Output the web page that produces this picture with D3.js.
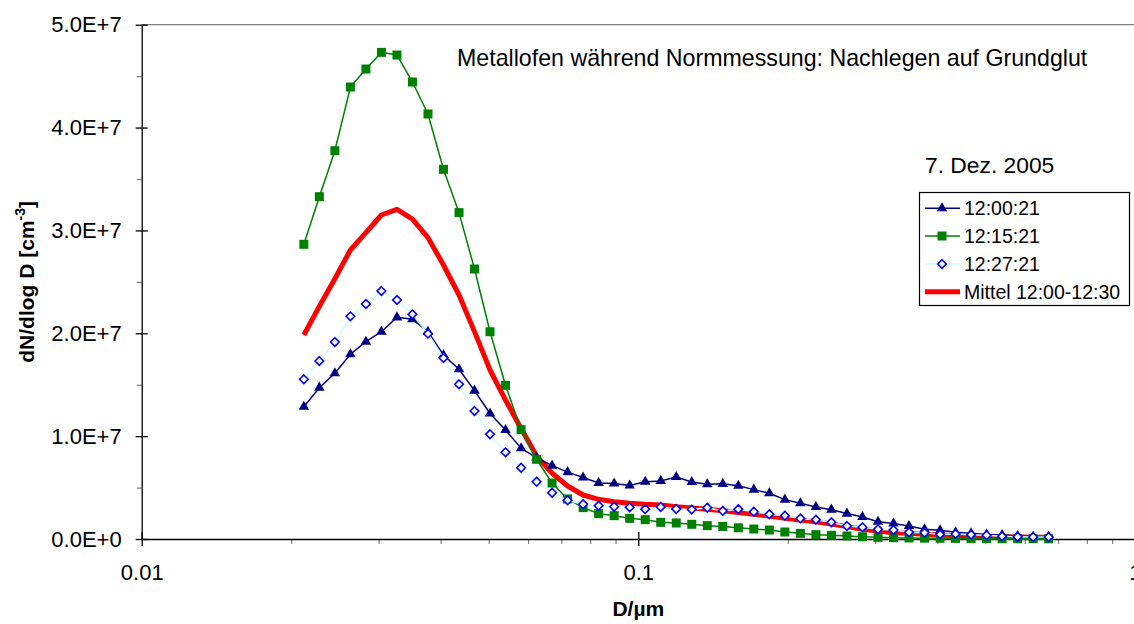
<!DOCTYPE html>
<html><head><meta charset="utf-8">
<script src="https://cdn.jsdelivr.net/npm/d3@7"></script>
<style>
body{margin:0;background:#fff}
svg{display:block}
text{font-family:"Liberation Sans",Arial,sans-serif;fill:#000}
</style>
</head><body><svg id="c" width="1134" height="624"></svg>
<script>
// ---------- data ----------
const diameters = [0.02121,0.02279,0.02449,0.02632,0.02828,0.03039,0.03266,0.03509,0.03771,0.04052,
  0.04355,0.04679,0.05028,0.05403,0.05807,0.06240,0.06705,0.07205,0.07743,0.08320,
  0.08941,0.09609,0.10325,0.11095,0.11923,0.12813,0.13769,0.14796,0.15900,0.17086,
  0.18361,0.19731,0.21203,0.22785,0.24484,0.26311,0.28274,0.30383,0.32650,0.35085,
  0.37703,0.40516,0.43538,0.46786,0.50277,0.54027,0.58058,0.62389,0.67043];
// values in units of 1E7 cm^-3
const s120021 = [1.286,1.471,1.611,1.796,1.918,2.015,2.155,2.136,2.015,1.789,
  1.650,1.442,1.220,1.060,0.882,0.790,0.713,0.650,0.598,0.545,
  0.540,0.520,0.557,0.565,0.603,0.554,0.533,0.536,0.517,0.480,
  0.444,0.383,0.347,0.311,0.285,0.247,0.214,0.168,0.150,0.126,
  0.094,0.084,0.066,0.055,0.044,0.039,0.029,0.022,0.022];
const s121521 = [2.865,3.328,3.775,4.394,4.569,4.731,4.705,4.443,4.132,3.594,
  3.173,2.625,2.015,1.494,1.063,0.775,0.544,0.389,0.305,0.246,
  0.227,0.201,0.188,0.162,0.156,0.143,0.130,0.122,0.109,0.097,
  0.087,0.068,0.055,0.042,0.036,0.029,0.022,0.016,0.013,0.010,
  0.008,0.007,0.006,0.004,0.004,0.003,0.003,0.003,0.002];
const s122721 = [1.553,1.730,1.915,2.165,2.285,2.411,2.324,2.184,1.996,1.760,
  1.504,1.244,1.018,0.843,0.693,0.557,0.450,0.376,0.338,0.324,
  0.314,0.308,0.290,0.311,0.292,0.286,0.304,0.273,0.290,0.265,
  0.241,0.227,0.200,0.188,0.162,0.126,0.114,0.094,0.087,0.065,
  0.061,0.045,0.049,0.042,0.036,0.026,0.022,0.019,0.019];
const sMittel = [1.983,2.262,2.531,2.810,2.978,3.150,3.205,3.110,2.930,2.664,
  2.372,2.016,1.643,1.351,1.075,0.807,0.639,0.515,0.428,0.386,
  0.363,0.347,0.337,0.331,0.314,0.301,0.289,0.275,0.258,0.240,
  0.224,0.201,0.185,0.168,0.146,0.120,0.094,0.078,0.061,0.055,
  0.045,0.039,0.032,0.029,0.022,0.022,0.019,0.016,0.016];
const UNIT = 1e7;
const seriesNames = ["12:00:21","12:15:21","12:27:21","Mittel 12:00-12:30"];
const yTickValues = [0,1e7,2e7,3e7,4e7,5e7];
const yMinorTicks = [0.5e7,1.5e7,2.5e7,3.5e7,4.5e7];
const xTickValues = [0.01,0.1,1];
const xTickLabels = ["0.01","0.1","1"];
const xMinorTicks = [0.02,0.03,0.04,0.05,0.06,0.07,0.08,0.09,0.2,0.3,0.4,0.5,0.6,0.7,0.8,0.9];
const titleText = "Metallofen während Normmessung: Nachlegen auf Grundglut";
const dateText = "7. Dez. 2005";

// ---------- layout ----------
const L = 141.7, R = 1134.9, T = 24.7, B = 539;
const svg = d3.select("#c");
const x = d3.scaleLog().domain([0.01,1]).range([L,R]);
const y = d3.scaleLinear().domain([0,5e7]).range([B,T]);

// top border
svg.append("line").attr("x1",L).attr("x2",R).attr("y1",T).attr("y2",T)
  .attr("stroke","#808080").attr("stroke-width",1.2);

// y minor ticks
svg.append("g").attr("transform",`translate(${L},0)`)
  .call(d3.axisLeft(y).tickValues(yMinorTicks).tickSize(5).tickFormat(""))
  .call(g=>g.select(".domain").remove())
  .call(g=>g.selectAll("line").attr("stroke","#808080").attr("stroke-width",1.2));
// y major
const fmtY = v => v===0 ? "0.0E+0" : (v/1e7).toFixed(1)+"E+7";
svg.append("g").attr("transform",`translate(${L},0)`)
  .call(d3.axisLeft(y).tickValues(yTickValues).tickSize(6).tickPadding(14).tickFormat(fmtY).tickSizeOuter(0))
  .call(g=>g.select(".domain").attr("stroke","#000").attr("stroke-width",1.3))
  .call(g=>g.selectAll(".tick line").attr("x1",6).attr("x2",-6).attr("stroke","#000").attr("stroke-width",1.3))
  .call(g=>g.selectAll("text").attr("font-size",22).attr("font-family","Liberation Sans, Arial").attr("fill","#000"));

// x minor
svg.append("g").attr("transform",`translate(0,${B})`)
  .call(d3.axisBottom(x).tickValues(xMinorTicks).tickSize(5).tickFormat(""))
  .call(g=>g.select(".domain").remove())
  .call(g=>g.selectAll("line").attr("stroke","#808080").attr("stroke-width",1.2));
// x major
svg.append("g").attr("transform",`translate(0,${B})`)
  .call(d3.axisBottom(x).tickValues(xTickValues).tickSize(7).tickPadding(18).tickSizeOuter(0)
     .tickFormat((d,i)=>xTickLabels[i]))
  .call(g=>g.select(".domain").attr("stroke","#000").attr("stroke-width",1.3))
  .call(g=>g.selectAll(".tick line").attr("y1",-7).attr("y2",7).attr("stroke","#000").attr("stroke-width",1.3))
  .call(g=>g.selectAll("text").attr("font-size",22).attr("font-family","Liberation Sans, Arial").attr("fill","#000"));

// ---------- series ----------
const line = d3.line().x((d,i)=>x(diameters[i])).y(d=>y(d*UNIT));
const plot = svg.append("g");

plot.append("path").datum(sMittel).attr("d",line).attr("fill","none")
  .attr("stroke","#ff0000").attr("stroke-width",5).attr("stroke-linejoin","round");

plot.append("path").datum(s120021).attr("d",line).attr("fill","none")
  .attr("stroke","#000080").attr("stroke-width",1.5);
const tri = d3.symbol(d3.symbolTriangle, 48)();
plot.selectAll(".tri").data(s120021).join("path").attr("class","tri")
  .attr("d",tri).attr("fill","#000080")
  .attr("transform",(d,i)=>`translate(${x(diameters[i])},${y(d*UNIT)})`);

plot.append("path").datum(s121521).attr("d",line).attr("fill","none")
  .attr("stroke","#008000").attr("stroke-width",1.5);
plot.selectAll(".sq").data(s121521).join("rect").attr("class","sq")
  .attr("x",(d,i)=>x(diameters[i])-4.5).attr("y",d=>y(d*UNIT)-4.5)
  .attr("width",9).attr("height",9).attr("fill","#008000");

plot.append("path").datum(s122721).attr("d",line).attr("fill","none")
  .attr("stroke","#ccffff").attr("stroke-width",1.5);
const dia = "M0,-4.3L4.3,0L0,4.3L-4.3,0Z";
plot.selectAll(".dia").data(s122721).join("path").attr("class","dia")
  .attr("d",dia).attr("fill","#ffffff").attr("stroke","#0000ff").attr("stroke-width",1.6)
  .attr("transform",(d,i)=>`translate(${x(diameters[i])},${y(d*UNIT)})`);

// ---------- texts ----------
svg.append("text").attr("x",457).attr("y",66).attr("font-size",23.2).text(titleText);
svg.append("text").attr("x",925).attr("y",173).attr("font-size",22.8).text(dateText);

// axis titles
svg.append("text").attr("x",(L+R)/2).attr("y",616).attr("text-anchor","middle")
  .attr("font-size",21).attr("font-weight","bold").text("D/µm");
const yt = svg.append("text").attr("transform",`translate(34,${(T+B)/2}) rotate(-90)`)
  .attr("text-anchor","middle").attr("font-size",21).attr("font-weight","bold");
yt.append("tspan").text("dN/dlog D [cm");
yt.append("tspan").attr("dy",-9).attr("font-size",14).text("-3");
yt.append("tspan").attr("dy",9).text("]");

// ---------- legend ----------
const lg = svg.append("g");
lg.append("rect").attr("x",919.5).attr("y",192.5).attr("width",210).attr("height",113)
  .attr("fill","#fff").attr("stroke","#000").attr("stroke-width",1.2);
const rowsY = [208.3,236,264,291.7];
const styles = [
  {stroke:"#000080",w:1.5,m:"tri"},
  {stroke:"#008000",w:1.5,m:"sq"},
  {stroke:"#ccffff",w:1.5,m:"dia"},
  {stroke:"#ff0000",w:5,m:null}
];
seriesNames.forEach((name,i)=>{
  const yy = rowsY[i], st = styles[i];
  lg.append("line").attr("x1",925).attr("x2",960).attr("y1",yy).attr("y2",yy)
    .attr("stroke",st.stroke).attr("stroke-width",st.w);
  if(st.m==="tri") lg.append("path").attr("d",tri).attr("fill","#000080").attr("transform",`translate(942,${yy})`);
  if(st.m==="sq") lg.append("rect").attr("x",937.5).attr("y",yy-4.5).attr("width",9).attr("height",9).attr("fill","#008000");
  if(st.m==="dia") lg.append("path").attr("d",dia).attr("fill","#fff").attr("stroke","#0000ff").attr("stroke-width",1.6).attr("transform",`translate(942,${yy})`);
  lg.append("text").attr("x",964).attr("y",yy+7).attr("font-size",19.5).text(name);
});
</script>
</body></html>
